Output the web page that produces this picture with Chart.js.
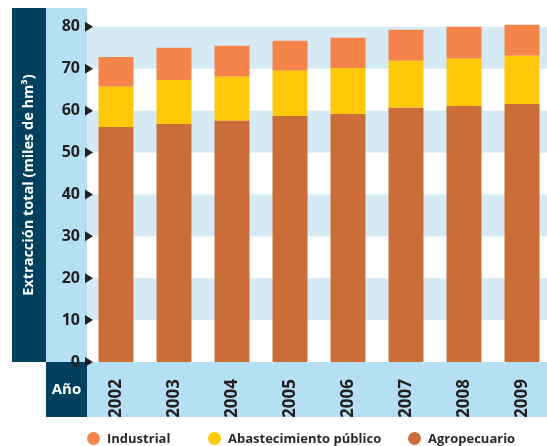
<!DOCTYPE html>
<html><head><meta charset="utf-8">
<script src="https://cdn.jsdelivr.net/npm/chart.js@4"></script>
<style>
html,body{margin:0;padding:0;background:#fff;overflow:hidden;}
#wrap{position:relative;width:547px;height:446px;overflow:hidden;}
canvas{position:absolute;left:0;top:0;}
.lg{position:absolute;top:430px;height:16px;display:flex;align-items:center;font:bold 13px "Open Sans";color:#2a2a2a;white-space:nowrap;}
.dot{width:13px;height:13px;border-radius:50%;margin-right:7px;flex:none;}
</style></head><body>
<div id="wrap"><canvas id="c" width="551" height="446"></canvas><div id="legend"></div></div>
<script>
const years = ['2002','2003','2004','2005','2006','2007','2008','2009'];
const agropecuario   = [56.1, 56.8, 57.6, 58.7, 59.2, 60.7, 61.1, 61.6];
const abastecimiento = [9.6, 10.5, 10.5, 10.8, 11.0, 11.2, 11.3, 11.5];
const industrial     = [7.1, 7.7, 7.4, 7.2, 7.2, 7.4, 7.6, 7.4];
const yTicks = [0,10,20,30,40,50,60,70,80];
const seriesNames = ['Agropecuario','Abastecimiento público','Industrial'];
const yTitle = 'Extracción total (miles de hm³)';
const xTitle = 'Año';

const NAVY = '#03405E', LIGHT = '#B5DFF2', BAND = '#D5EAF5';
const COLORS = ['#CA6D38', '#FFC90A', '#F5844A'];

const panels = {
  id: 'panels',
  beforeDraw(chart) {
    const {ctx, chartArea: a, scales: {x, y}} = chart;
    const W = chart.width;
    ctx.save();
    ctx.fillStyle = NAVY; ctx.fillRect(12, a.top, 34, x.top - a.top);
    ctx.fillStyle = LIGHT; ctx.fillRect(46, a.top, a.left - 46, x.bottom - a.top);
    ctx.fillStyle = NAVY; ctx.fillRect(46, x.top, a.left - 46, x.bottom - x.top);
    ctx.fillStyle = LIGHT; ctx.fillRect(a.left, x.top, W - a.left, x.bottom - x.top);
    ctx.fillStyle = BAND;
    for (let v = 10; v < 80; v += 20) {
      const y1 = y.getPixelForValue(v + 10), y2 = y.getPixelForValue(v);
      ctx.fillRect(a.left, y1, a.right - a.left, y2 - y1);
    }
    ctx.restore();
  },
  afterDraw(chart) {
    const {ctx, scales: {x, y}} = chart;
    ctx.save();
    ctx.fillStyle = '#231F20';
    y.ticks.forEach(t => {
      const py = y.getPixelForValue(t.value);
      ctx.beginPath();
      ctx.moveTo(85, py - 5); ctx.lineTo(93, py); ctx.lineTo(85, py + 5); ctx.closePath();
      ctx.fill();
    });
    ctx.fillStyle = '#fff';
    ctx.font = 'bold 15px "Open Sans"';
    ctx.textAlign = 'center'; ctx.textBaseline = 'middle';
    ctx.fillText(xTitle, 66.5, (x.top + x.bottom) / 2);
    ctx.restore();
  }
};

const chart = new Chart(document.getElementById('c'), {
  type: 'bar',
  data: {
    labels: years,
    datasets: [
      {label: seriesNames[0], data: agropecuario, backgroundColor: COLORS[0]},
      {label: seriesNames[1], data: abastecimiento, backgroundColor: COLORS[1]},
      {label: seriesNames[2], data: industrial, backgroundColor: COLORS[2]}
    ]
  },
  options: {
    responsive: false,
    animation: false,
    devicePixelRatio: 1,
    layout: {padding: {top: 8, bottom: 29, left: 0, right: 0}},
    datasets: {bar: {categoryPercentage: 1, barPercentage: 0.603, borderWidth: 0}},
    plugins: {legend: {display: false}, tooltip: {enabled: false}},
    scales: {
      x: {
        stacked: true,
        grid: {display: false}, border: {display: false},
        ticks: {minRotation: 90, maxRotation: 90, padding: 9, color: '#231F20',
                font: {family: 'Open Sans', weight: 'bold', size: 17}},
        afterFit(s) { s.height = 55; s.paddingLeft = 0; s.paddingRight = 0; }
      },
      y: {
        stacked: true, min: 0, max: 84.5,
        grid: {display: false, drawTicks: false}, border: {display: false},
        ticks: {padding: 7, color: '#231F20', font: {family: 'Open Sans', weight: 'bold', size: 16}},
        afterBuildTicks(s) { s.ticks = yTicks.map(v => ({value: v})); },
        title: {display: true, text: yTitle, color: '#fff', padding: {top: 20.6, bottom: 0},
                font: {family: 'Open Sans', weight: 'bold', size: 14.5}},
        afterFit(s) { s.width = 87; s.paddingTop = 0; s.paddingBottom = 0; }
      }
    }
  },
  plugins: [panels]
});

// legend (HTML), built from the datasets, in reverse stacking order
const legendLefts = [87, 208, 408];
const lg = document.getElementById('legend');
[2, 1, 0].forEach((di, i) => {
  const ds = chart.data.datasets[di];
  const item = document.createElement('div');
  item.className = 'lg';
  item.style.left = legendLefts[i] + 'px';
  const dot = document.createElement('span');
  dot.className = 'dot'; dot.style.background = ds.backgroundColor;
  const txt = document.createElement('span');
  txt.textContent = ds.label;
  item.appendChild(dot); item.appendChild(txt);
  lg.appendChild(item);
});
</script>
</body></html>
